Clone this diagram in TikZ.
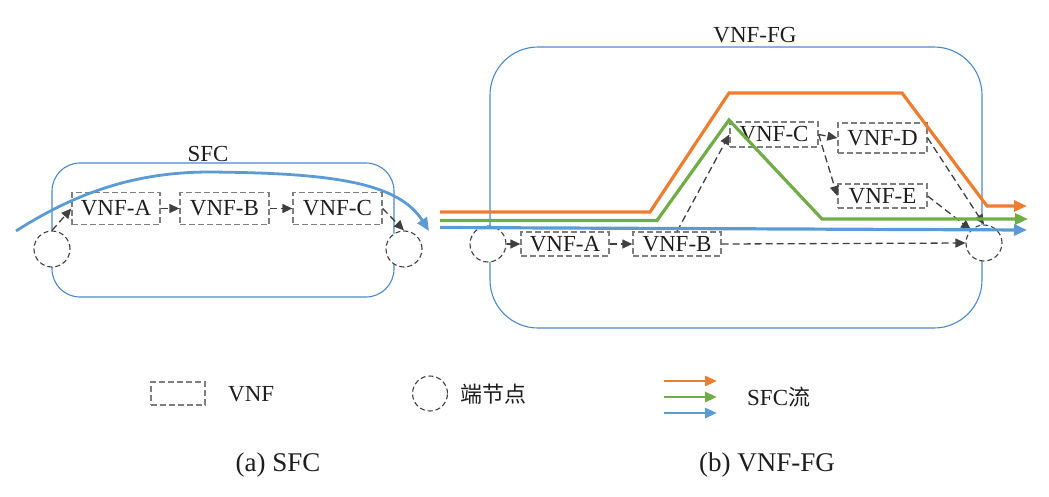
\documentclass[tikz,border=0pt]{standalone}
\usepackage{fontspec}
\setmainfont{Liberation Serif}
\newfontfamily\cjk{Noto Sans CJK SC}
\usetikzlibrary{arrows.meta}
\definecolor{boxblue}{HTML}{4A88CC}
\definecolor{flowblue}{HTML}{5B9BD5}
\definecolor{floworange}{HTML}{ED7D31}
\definecolor{flowgreen}{HTML}{70AD47}
\definecolor{dgray}{HTML}{404040}
\definecolor{mgray}{HTML}{7F7F7F}
\definecolor{txt}{HTML}{1E1E1E}
\tikzset{
  container/.style={draw=boxblue, line width=1.1pt, inner sep=0pt},
  vnfbox/.style={draw=mgray, dash pattern=on 6pt off 3pt, line width=1.3pt, fill=white,
    inner sep=0pt, text=txt, font=\fontsize{23}{27}\selectfont},
  endnode/.style={circle, draw=dgray, dash pattern=on 5pt off 3pt, line width=1.1pt, fill=white,
    minimum size=36pt, inner sep=0pt},
  link/.style={draw=dgray, line width=1.3pt, dash pattern=on 7pt off 4pt,
    -{Triangle[length=10pt,width=9pt]}},
  flow/.style={line width=3.2pt, -{Triangle[length=13pt,width=11pt]}},
  legflow/.style={line width=2.8pt, -{Triangle[length=12pt,width=10pt]}},
  lbl/.style={text=txt, inner sep=0pt, font=\fontsize{23}{27}\selectfont},
  captext/.style={text=txt, inner sep=0pt, font=\fontsize{27}{31}\selectfont},
}
\begin{document}
\begin{tikzpicture}[x=1pt,y=-1pt]
\useasboundingbox (0,0) rectangle (1049,496);
% ---------- (a) SFC ----------
\node[container, rounded corners=28pt, minimum width=342pt, minimum height=134pt] (sfcbox) at (223,230) {};
\node[lbl] (sfclabel) at (208,154) {SFC};
\node[endnode] (lc1) at (52,249) {};
\node[endnode] (lc2) at (404,249) {};
\node[vnfbox, minimum width=88pt, minimum height=32pt] (lA) at (116,208.5) {VNF-A};
\node[vnfbox, minimum width=89pt, minimum height=32pt] (lB) at (224.5,208.5) {VNF-B};
\node[vnfbox, minimum width=89pt, minimum height=32pt] (lC) at (337.5,208.5) {VNF-C};
\draw[link] (lc1.north) -- (lA.west);
\draw[link] (lA.east) -- (lB.west);
\draw[link] (lB.east) -- (lC.west);
\draw[link] (lC.east) -- (lc2.north);
\coordinate (sfcs) at (16,231);
\coordinate (sfcm) at (210,172);
\coordinate (sfce) at (429,231);
\draw[flow, draw=flowblue, line width=2.8pt] (sfcs) .. controls (80,190) and (140,172) .. (sfcm)
  .. controls (330,173) and (398,182) .. (sfce);
% ---------- (b) VNF-FG ----------
\node[container, rounded corners=48pt, minimum width=492pt, minimum height=281pt] (fgbox) at (736,187.5) {};
\node[lbl] (fglabel) at (755,35) {VNF-FG};
\node[endnode] (rc1) at (488,244) {};
\node[endnode] (rc2) at (984,243) {};
\node[vnfbox, minimum width=88pt, minimum height=24pt] (rA) at (565,244) {VNF-A};
\node[vnfbox, minimum width=88pt, minimum height=24pt] (rB) at (677,244) {VNF-B};
\node[vnfbox, minimum width=88pt, minimum height=25pt] (rC) at (774,134.5) {VNF-C};
\node[vnfbox, minimum width=89pt, minimum height=30pt] (rD) at (882.5,138) {VNF-D};
\node[vnfbox, minimum width=89pt, minimum height=24pt] (rE) at (882.5,196) {VNF-E};
\draw[link] (rc1.east) -- (rA.west);
\draw[link] (rA.east) -- (rB.west);
\draw[link] (rB.east) -- (rc2.west);
\draw[link] (rB.north) -- (rC.west);
\draw[link] (rC.east) -- (rD.west);
\draw[link] (rC.east) -- (rE.west);
\draw[link] (rD.east) -- (rc2.north);
\draw[link] (rE.east) -- (rc2.north west);
% flows
\coordinate (os) at (440,212);
\coordinate (oe) at (1027,206);
\draw[flow, draw=floworange] (os) -- (650,212) -- (729,93) -- (902,93) -- (987,206) -- (oe);
\coordinate (gs) at (440,220.5);
\coordinate (ge) at (1028,219);
\draw[flow, draw=flowgreen] (gs) -- (657,220.5) -- (729,120) -- (822,219) -- (ge);
\coordinate (bs) at (440,227.5);
\coordinate (be) at (1027,230);
\draw[flow, draw=flowblue] (bs) -- (be);
% ---------- legend ----------
\node[vnfbox, minimum width=54pt, minimum height=23pt] (legvnf) at (178,393.5) {};
\node[lbl, anchor=west] (legvnft) at (228,394) {VNF};
\node[endnode, minimum size=35pt] (legend) at (430,393.5) {};
\node[lbl, anchor=west, font=\cjk\fontsize{22}{26}\selectfont] (legendt) at (460,394) {端节点};
\coordinate (lo1) at (664,381); \coordinate (lo2) at (717,381);
\coordinate (lg1) at (664,397); \coordinate (lg2) at (717,397);
\coordinate (lb1) at (664,413); \coordinate (lb2) at (717,413);
\draw[legflow, draw=floworange] (lo1) -- (lo2);
\draw[legflow, draw=flowgreen] (lg1) -- (lg2);
\draw[legflow, draw=flowblue] (lb1) -- (lb2);
\node[lbl, anchor=west] (legflowt) at (747,397) {SFC{\cjk\fontsize{22}{26}\selectfont 流}};
% ---------- captions ----------
\node[captext] (capa) at (278,465) {(a) SFC};
\node[captext] (capb) at (767,465) {(b) VNF-FG};
\end{tikzpicture}
\end{document}
